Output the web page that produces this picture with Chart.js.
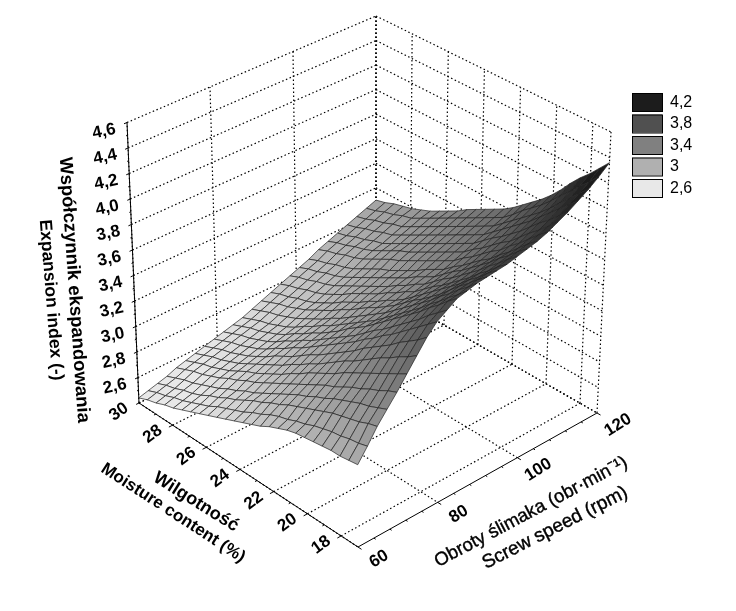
<!DOCTYPE html>
<html>
<head>
<meta charset="utf-8">
<style>
  html, body { margin: 0; padding: 0; background: #fff; }
  canvas { display: block; }
</style>
<script src="https://cdn.jsdelivr.net/npm/chart.js@4"></script>
</head>
<body>
<canvas id="c" width="736" height="611"></canvas>
<script>
// axis values
const moistureValues = [30, 29.48, 28.96, 28.44, 27.92, 27.4, 26.88, 26.36, 25.84, 25.32, 24.8, 24.28, 23.76, 23.24, 22.72, 22.2, 21.68, 21.16, 20.64, 20.12, 19.6, 19.08, 18.56, 18.04, 17.52, 17];
const speedValues = [60, 62.4, 64.8, 67.2, 69.6, 72, 74.4, 76.8, 79.2, 81.6, 84, 86.4, 88.8, 91.2, 93.6, 96, 98.4, 100.8, 103.2, 105.6, 108, 110.4, 112.8, 115.2, 117.6, 120];
const moistureTicks = [30, 28, 26, 24, 22, 20, 18];
const speedTicks = [60, 80, 100, 120];
const zTicks = [2.6, 2.8, 3.0, 3.2, 3.4, 3.6, 3.8, 4.0, 4.2, 4.4, 4.6];

// expansion index: one row per moisture, one column per speed
const surfaceZ = [
  [2.44,2.46,2.48,2.50,2.53,2.55,2.57,2.59,2.61,2.63,2.65,2.67,2.70,2.73,2.76,2.79,2.82,2.85,2.88,2.92,2.95,2.98,3.01,3.04,3.07,3.10],
  [2.47,2.49,2.51,2.53,2.56,2.58,2.60,2.62,2.64,2.66,2.68,2.70,2.73,2.76,2.79,2.82,2.85,2.88,2.91,2.95,2.98,3.00,3.03,3.06,3.09,3.12],
  [2.49,2.51,2.53,2.56,2.59,2.61,2.63,2.65,2.67,2.69,2.71,2.73,2.76,2.79,2.81,2.84,2.87,2.90,2.93,2.97,3.00,3.03,3.06,3.09,3.12,3.15],
  [2.52,2.54,2.56,2.58,2.61,2.63,2.65,2.67,2.69,2.71,2.73,2.75,2.78,2.81,2.84,2.87,2.90,2.93,2.96,3.00,3.03,3.05,3.08,3.11,3.14,3.17],
  [2.54,2.56,2.58,2.61,2.64,2.66,2.68,2.70,2.72,2.74,2.76,2.78,2.81,2.84,2.86,2.89,2.92,2.95,2.98,3.02,3.05,3.08,3.11,3.14,3.17,3.19],
  [2.57,2.59,2.61,2.64,2.67,2.69,2.71,2.73,2.75,2.77,2.79,2.81,2.84,2.87,2.89,2.92,2.95,2.98,3.01,3.05,3.08,3.10,3.13,3.16,3.19,3.22],
  [2.60,2.62,2.65,2.67,2.71,2.73,2.75,2.77,2.79,2.81,2.83,2.85,2.88,2.91,2.93,2.96,2.99,3.02,3.05,3.09,3.12,3.14,3.17,3.20,3.23,3.25],
  [2.63,2.65,2.68,2.71,2.74,2.77,2.79,2.81,2.84,2.86,2.88,2.90,2.92,2.95,2.97,3.00,3.03,3.06,3.09,3.13,3.16,3.18,3.21,3.24,3.27,3.29],
  [2.66,2.69,2.72,2.74,2.78,2.80,2.83,2.86,2.88,2.90,2.92,2.94,2.96,2.99,3.02,3.05,3.07,3.10,3.13,3.17,3.20,3.22,3.25,3.28,3.31,3.33],
  [2.69,2.72,2.75,2.78,2.81,2.84,2.87,2.90,2.93,2.95,2.97,2.99,3.01,3.04,3.06,3.09,3.11,3.14,3.16,3.20,3.23,3.26,3.29,3.32,3.35,3.37],
  [2.72,2.75,2.79,2.81,2.85,2.88,2.91,2.94,2.97,2.99,3.01,3.03,3.05,3.08,3.10,3.13,3.15,3.18,3.20,3.24,3.27,3.30,3.33,3.36,3.39,3.42],
  [2.75,2.78,2.83,2.85,2.89,2.92,2.96,2.99,3.02,3.04,3.06,3.08,3.10,3.13,3.15,3.17,3.19,3.22,3.24,3.28,3.31,3.34,3.37,3.40,3.43,3.46],
  [2.78,2.82,2.86,2.89,2.93,2.97,3.00,3.04,3.07,3.09,3.11,3.13,3.15,3.18,3.19,3.22,3.24,3.26,3.28,3.32,3.35,3.38,3.41,3.44,3.47,3.50],
  [2.81,2.85,2.90,2.93,2.97,3.01,3.05,3.08,3.12,3.14,3.17,3.18,3.20,3.22,3.24,3.26,3.28,3.31,3.33,3.36,3.39,3.42,3.45,3.48,3.51,3.54],
  [2.84,2.89,2.93,2.97,3.01,3.06,3.09,3.13,3.17,3.19,3.22,3.23,3.25,3.27,3.28,3.31,3.33,3.35,3.37,3.40,3.43,3.46,3.49,3.52,3.55,3.58],
  [2.88,2.92,2.97,3.01,3.05,3.10,3.14,3.18,3.22,3.24,3.27,3.28,3.30,3.32,3.33,3.35,3.37,3.39,3.41,3.44,3.47,3.50,3.53,3.56,3.59,3.63],
  [2.91,2.94,3.00,3.04,3.09,3.14,3.19,3.23,3.27,3.30,3.33,3.34,3.36,3.38,3.39,3.41,3.43,3.45,3.47,3.50,3.53,3.56,3.59,3.62,3.65,3.69],
  [2.94,2.97,3.03,3.08,3.13,3.18,3.24,3.28,3.33,3.36,3.39,3.40,3.42,3.44,3.45,3.47,3.49,3.51,3.52,3.55,3.58,3.62,3.65,3.68,3.72,3.75],
  [2.96,2.99,3.06,3.11,3.16,3.23,3.28,3.34,3.38,3.41,3.45,3.46,3.48,3.49,3.51,3.52,3.54,3.56,3.58,3.61,3.64,3.67,3.71,3.74,3.78,3.81],
  [2.97,3.02,3.09,3.15,3.20,3.27,3.33,3.39,3.44,3.47,3.51,3.52,3.54,3.55,3.57,3.58,3.60,3.62,3.64,3.67,3.70,3.73,3.77,3.80,3.84,3.88],
  [2.98,3.04,3.12,3.18,3.24,3.31,3.38,3.44,3.49,3.53,3.57,3.58,3.60,3.61,3.63,3.64,3.66,3.68,3.69,3.72,3.75,3.79,3.83,3.86,3.91,3.96],
  [2.99,3.06,3.14,3.21,3.27,3.35,3.43,3.49,3.55,3.59,3.63,3.65,3.67,3.68,3.69,3.70,3.72,3.74,3.76,3.79,3.82,3.86,3.90,3.93,3.99,4.05],
  [3.00,3.07,3.16,3.24,3.31,3.39,3.47,3.55,3.61,3.65,3.70,3.71,3.73,3.75,3.76,3.77,3.79,3.81,3.82,3.85,3.89,3.93,3.97,4.01,4.06,4.13],
  [3.00,3.09,3.18,3.26,3.34,3.43,3.52,3.60,3.67,3.72,3.76,3.78,3.80,3.81,3.82,3.83,3.85,3.87,3.89,3.92,3.95,3.99,4.04,4.08,4.14,4.20],
  [3.01,3.10,3.21,3.29,3.38,3.47,3.56,3.65,3.73,3.78,3.83,3.84,3.86,3.88,3.89,3.90,3.92,3.94,3.96,3.99,4.02,4.06,4.11,4.16,4.21,4.28],
  [3.02,3.12,3.23,3.32,3.41,3.51,3.61,3.71,3.79,3.84,3.89,3.91,3.93,3.94,3.95,3.96,3.98,4.00,4.02,4.05,4.09,4.13,4.18,4.23,4.29,4.36]
];

// legend / colour levels
const legendLevels = [4.2, 3.8, 3.4, 3, 2.6];
const legendLabels = ["4,2", "3,8", "3,4", "3", "2,6"];
const legendGrays = [28, 80, 128, 176, 232];

// box corners on the view plane; floor then top
const floorBox = { back: [376, 286], left: [139, 403], right: [597, 413], front: [358, 547] };
const topBox = { back: [376, 16], left: [127, 122.5], right: [611, 132], front: [357, 255] };
const MOIST = [30, 17], SPEED = [60, 120], ZR = [2.4, 4.6];

const normM = m => (MOIST[0] - m) / (MOIST[0] - MOIST[1]);
const normS = s => (s - SPEED[0]) / (SPEED[1] - SPEED[0]);
const normZ = z => (z - ZR[0]) / (ZR[1] - ZR[0]);

// u: 0 at moisture 30, 1 at 17 · v: 0 at speed 60, 1 at 120 · w: 0 at floor, 1 at top
function plane(b, u, v, k) {
  return (1 - u) * (1 - v) * b.left[k] + u * (1 - v) * b.front[k] + u * v * b.right[k] + (1 - u) * v * b.back[k];
}
function project(u, v, w) {
  return { x: plane(floorBox, u, v, 0) * (1 - w) + plane(topBox, u, v, 0) * w,
           y: plane(floorBox, u, v, 1) * (1 - w) + plane(topBox, u, v, 1) * w };
}

function grayFor(z) {
  const lv = legendLevels, g = legendGrays;
  if (z >= lv[0]) return g[0];
  if (z <= lv[4]) return g[4];
  for (let i = 0; i < 4; i++) {
    if (z <= lv[i] && z >= lv[i + 1]) return g[i + 1] + (g[i] - g[i + 1]) * (z - lv[i + 1]) / (lv[i] - lv[i + 1]);
  }
}

// chart.js paints the first dataset on top, so the front quads go in first
const datasets = [];
const lastI = moistureValues.length - 2, lastJ = speedValues.length - 2;
for (let i = lastI; i >= 0; i--) {
  for (let j = 0; j <= lastJ; j++) {
    const pt = (a, b) => project(normM(moistureValues[a]), normS(speedValues[b]), normZ(surfaceZ[a][b]));
    const mean = (surfaceZ[i][j] + surfaceZ[i + 1][j] + surfaceZ[i][j + 1] + surfaceZ[i + 1][j + 1]) / 4;
    const g = Math.round(grayFor(mean));
    datasets.push({
      data: [pt(i, j), pt(i + 1, j), pt(i + 1, j + 1), pt(i, j + 1), pt(i, j)],
      showLine: true, fill: "shape", tension: 0, pointRadius: 0,
      backgroundColor: `rgb(${g},${g},${g})`, borderColor: "#222", borderWidth: 0.7
    });
  }
}

function seg(a, b, solid) {
  datasets.push({ data: [a, b], showLine: true, fill: false, pointRadius: 0, borderColor: "#000",
    borderWidth: solid ? 1 : 1.2, borderDash: solid ? [] : [1.5, 2.5] });
}

// dotted walls and floor
zTicks.forEach(z => {
  const w = normZ(z);
  seg(project(0, 0, w), project(0, 1, w));
  seg(project(0, 1, w), project(1, 1, w));
});
speedTicks.forEach(s => {
  const v = normS(s);
  seg(project(0, v, 0), project(0, v, 1));
  seg(project(0, v, 0), project(1, v, 0));
});
moistureTicks.forEach(m => {
  const u = normM(m);
  seg(project(u, 1, 0), project(u, 1, 1));
  seg(project(u, 0, 0), project(u, 1, 0));
});
seg(project(0, 1, 0), project(0, 1, 1));
seg(project(1, 1, 0), project(1, 1, 1));
seg(project(0, 1, 0), project(1, 1, 0));
seg(project(0, 0, 0), project(0, 1, 0));

// solid axes + tick marks
seg(project(0, 0, 0), project(1, 0, 0), true);
seg(project(1, 0, 0), project(1, 1, 0), true);
seg(project(0, 0, 0), project(0, 0, 1), true);
for (let z = 24; z <= 46; z++) {
  const w = normZ(z / 10);
  seg(project(0, 0, w), project(0, z % 2 ? -0.006 : -0.012, w), true);
}
for (let m = 18; m <= 29; m++) {
  const u = normM(m);
  seg(project(u, 0, 0), project(u, m % 2 ? -0.008 : -0.016, 0), true);
}
for (let s = 60; s <= 120; s += 4) {
  const v = normS(s);
  seg(project(1, v, 0), project(s % 20 ? 1.008 : 1.016, v, 0), true);
}

function rotText(ctx, txt, x, y, deg, font, heavy) {
  ctx.save();
  ctx.translate(x, y);
  ctx.rotate(deg * Math.PI / 180);
  ctx.font = font;
  ctx.fillStyle = "#000";
  ctx.textAlign = "center";
  ctx.textBaseline = "middle";
  ctx.fillText(txt, 0, 0);
  if (heavy) {
    ctx.strokeStyle = "#000";
    ctx.lineWidth = heavy;
    ctx.strokeText(txt, 0, 0);
  }
  ctx.restore();
}

const labelsPlugin = {
  id: "labels3d",
  afterDraw(chart) {
    const ctx = chart.ctx, sx = chart.scales.x, sy = chart.scales.y;
    const px = p => ({ x: sx.getPixelForValue(p.x), y: sy.getPixelForValue(p.y) });
    const tickFont = 'bold 17px "Liberation Sans"';
    zTicks.forEach(z => {
      const p = px(project(0, 0, normZ(z)));
      rotText(ctx, z.toFixed(1).replace(".", ","), p.x - 23, p.y + 9, -12, tickFont);
    });
    moistureTicks.forEach(m => {
      const p = px(project(normM(m), 0, 0));
      rotText(ctx, String(m), p.x - 20, p.y + 9, -36, tickFont);
    });
    speedTicks.forEach(s => {
      const p = px(project(1, normS(s), 0));
      rotText(ctx, String(s), p.x + 21, p.y + 12, -32, tickFont);
    });
    rotText(ctx, "Współczynnik ekspandowania", 74, 290, 86, 'bold 18.5px "Liberation Sans"');
    rotText(ctx, "Expansion index (-)", 51, 300, 85.5, 'bold 17.5px "Liberation Sans"');
    rotText(ctx, "Wilgotność", 196, 502, 32, 'bold 18px "Liberation Sans"');
    rotText(ctx, "Moisture content (%)", 173, 513, 33, 'bold 17px "Liberation Sans"');
    rotText(ctx, "Obroty ślimaka (obr·min⁻¹)", 531, 512, -28, '18.5px "Liberation Sans"', 0.4);
    rotText(ctx, "Screw speed (rpm)", 555, 528, -27, '19px "Liberation Sans"', 0.4);

    // legend
    legendLabels.forEach((t, i) => {
      const y = 93 + i * 21.5, g = legendGrays[i];
      ctx.fillStyle = `rgb(${g},${g},${g})`;
      ctx.strokeStyle = "#000";
      ctx.lineWidth = 1;
      ctx.fillRect(632, y, 30, 18);
      ctx.strokeRect(632.5, y + 0.5, 30, 18);
      ctx.fillStyle = "#000";
      ctx.font = '16px "Liberation Sans"';
      ctx.textAlign = "left";
      ctx.textBaseline = "middle";
      ctx.fillText(t, 670, y + 9.5);
    });
  }
};

new Chart(document.getElementById("c"), {
  type: "scatter",
  data: { datasets },
  options: {
    responsive: false,
    animation: false,
    events: [],
    layout: { padding: 0 },
    plugins: { legend: { display: false }, tooltip: { enabled: false } },
    scales: {
      x: { type: "linear", display: false, min: 0, max: 736 },
      y: { type: "linear", display: false, min: 0, max: 611, reverse: true }
    }
  },
  plugins: [labelsPlugin]
});
</script>
</body>
</html>
